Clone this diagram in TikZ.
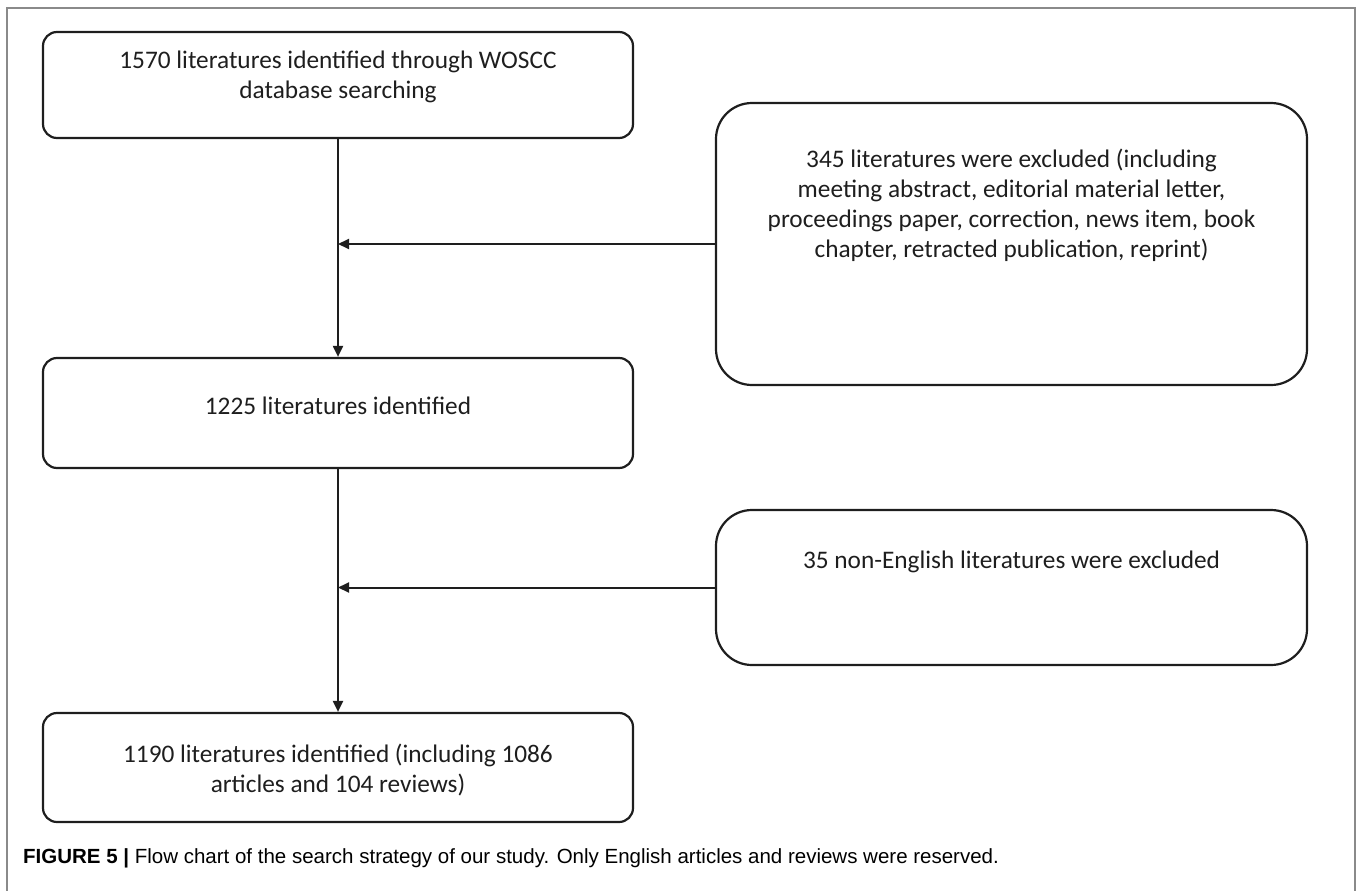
\documentclass[tikz,border=0pt]{standalone}
\usepackage{fontspec}
\setmainfont{Carlito}
\newfontfamily\capfont{Liberation Sans}
\usetikzlibrary{arrows.meta}
\definecolor{ink}{HTML}{1E1E1E}
\definecolor{framegray}{HTML}{8A8A8A}
\tikzset{
  boxsmall/.style={draw=ink, line width=2.2pt, rounded corners=14pt, inner sep=0pt},
  boxbig/.style={draw=ink, line width=2.2pt, rounded corners=36pt, inner sep=0pt},
  txt/.style={font=\fontsize{25.3}{30}\selectfont, align=center, text=ink, inner sep=0pt},
  conn/.style={draw=ink, line width=2pt, -{Triangle[length=11pt,width=10pt]}},
  framestyle/.style={draw=framegray, line width=2pt},
}
\begin{document}
\begin{tikzpicture}[x=1pt,y=-1pt]
\useasboundingbox (0,0) rectangle (1358,891);
\draw[framestyle] (7,891) -- (7,8) -- (1355,8) -- (1355,891);

% boxes (left column)
\node[boxsmall, minimum width=590pt, minimum height=106pt] (b1) at (338,85) {};
\node[boxsmall, minimum width=590pt, minimum height=110pt] (b3) at (338,413) {};
\node[boxsmall, minimum width=590pt, minimum height=109pt] (b5) at (338,767.5) {};
% boxes (right column)
\node[boxbig, minimum width=591pt, minimum height=282pt] (b2) at (1011.5,244) {};
\node[boxbig, minimum width=591pt, minimum height=155pt] (b4) at (1011.5,587.5) {};

% texts
\node[txt] (t1) at (338,76.5) {1570 literatures identified through WOSCC\\database searching};
\node[txt] (t3) at (338,406) {1225 literatures identified};
\node[txt] (t5) at (338,770) {1190 literatures identified (including 1086\\articles and 104 reviews)};
\node[txt] (t2) at (1011.5,205.5) {345 literatures were excluded (including\\meeting abstract, editorial material letter,\\proceedings paper, correction, news item, book\\chapter, retracted publication, reprint)};
\node[txt] (t4) at (1011.5,562) {35 non-English literatures were excluded};

% connectors
\coordinate (j1) at (b1.south |- b2.west);
\coordinate (j2) at (b3.south |- b4.west);
\draw[conn] (b1.south) -- (b3.north);
\draw[conn] (b2.west) -- (j1);
\draw[conn] (b3.south) -- (b5.north);
\draw[conn] (b4.west) -- (j2);

% caption
\node[anchor=base west, inner sep=0pt, font=\capfont\fontsize{20.5}{24}\selectfont] (cap) at (23,863)
  {\textbf{FIGURE 5 |} Flow chart of the search strategy of our study. Only English articles and reviews were reserved.};
\end{tikzpicture}
\end{document}
